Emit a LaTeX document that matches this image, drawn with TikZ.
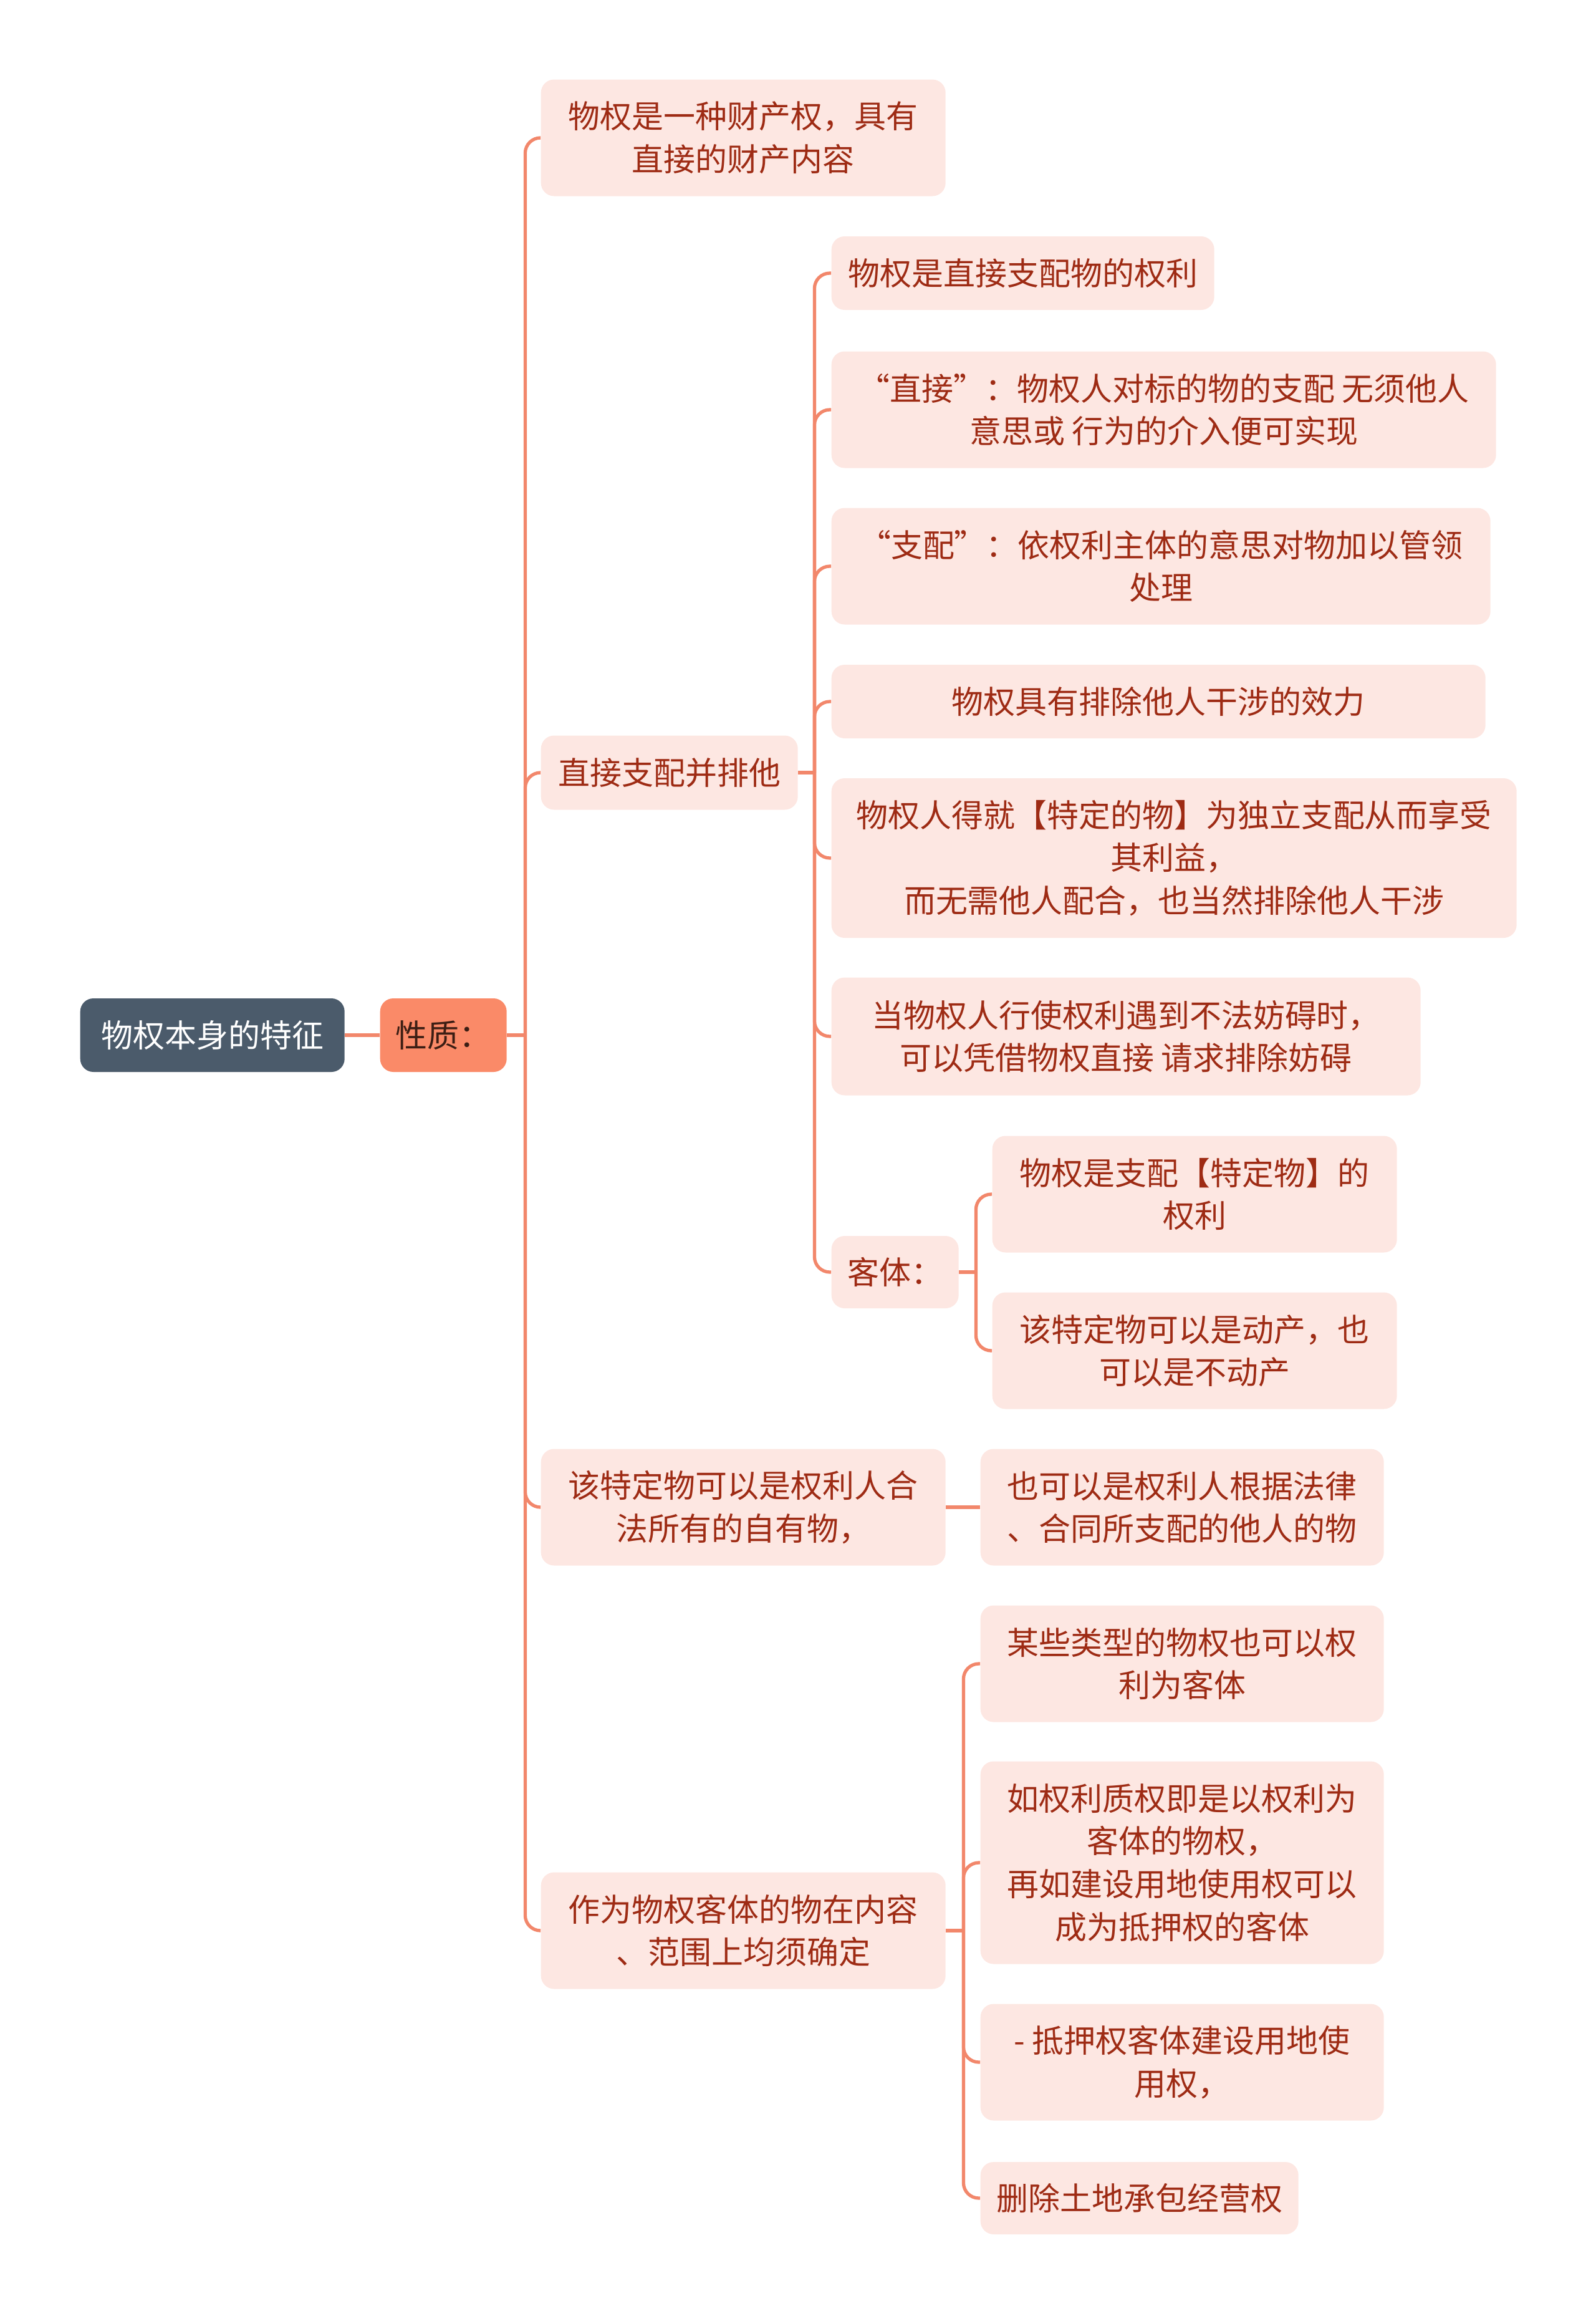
\documentclass[tikz,border=0pt]{standalone}
\usepackage{fontspec}
\setmainfont{Noto Sans CJK SC}
\usetikzlibrary{positioning,calc}
\definecolor{sroot}{HTML}{4B5B6B}
\definecolor{sorange}{HTML}{FA8A68}
\definecolor{spink}{HTML}{FDE7E2}
\definecolor{sline}{HTML}{F2876B}
\definecolor{stext}{HTML}{9E2B14}
\definecolor{sdark}{HTML}{3C1E14}

\begin{document}
\begin{tikzpicture}[
  box/.style={anchor=west, fill=spink, rounded corners=6pt, text=stext, align=center,
    inner sep=4pt, font=\fontsize{14.5}{19.5}\selectfont},
  wh/.style 2 args={minimum width=#1cm, minimum height=#2cm},
  link/.style={sline, line width=1.5pt, rounded corners=7pt}]
 \useasboundingbox (0,0) rectangle (25.6,-37.14);
 % root and first level
 \node[box, wh={4.24}{1.18}, fill=sroot, text=white] (root) at (1.28,-16.60) {物权本身的特征};
 \node[box, wh={2.03}{1.18}, fill=sorange, text=sdark] (xz) at (6.09,-16.60) {性质：};
 \node[box, wh={6.49}{1.87}] (n1) at (8.67,-2.21) {物权是一种财产权，具有\\直接的财产内容};
 \node[box, wh={4.12}{1.19}] (n2) at (8.67,-12.39) {直接支配并排他};
 \node[box, wh={6.49}{1.87}] (n3) at (8.67,-24.17) {该特定物可以是权利人合\\法所有的自有物，};
 \node[box, wh={6.49}{1.87}] (n4) at (8.67,-30.96) {作为物权客体的物在内容\\、范围上均须确定};
 % children of n2
 \node[box, wh={6.14}{1.18}] (c1) at (13.33,-4.38) {物权是直接支配物的权利};
 \node[box, wh={10.66}{1.87}] (c2) at (13.33,-6.57) {“直接”：物权人对标的物的支配 无须他人\\意思或 行为的介入便可实现};
 \node[box, wh={10.57}{1.87}] (c3) at (13.33,-9.08) {“支配”：依权利主体的意思对物加以管领\\处理};
 \node[box, wh={10.49}{1.18}] (c4) at (13.33,-11.25) {物权具有排除他人干涉的效力};
 \node[box, wh={10.99}{2.56}] (c5) at (13.33,-13.76) {物权人得就【特定的物】为独立支配从而享受\\其利益，\\而无需他人配合，也当然排除他人干涉};
 \node[box, wh={9.45}{1.89}] (c6) at (13.33,-16.62) {当物权人行使权利遇到不法妨碍时，\\可以凭借物权直接 请求排除妨碍};
 \node[box, wh={2.04}{1.16}] (c7) at (13.33,-20.40) {客体：};
 \node[box, wh={6.49}{1.87}] (k1) at (15.91,-19.15) {物权是支配【特定物】的\\权利};
 \node[box, wh={6.49}{1.87}] (k2) at (15.91,-21.66) {该特定物可以是动产，也\\可以是不动产};
 % children of n3 and n4
 \node[box, wh={6.47}{1.87}] (p1) at (15.72,-24.17) {也可以是权利人根据法律\\、合同所支配的他人的物};
 \node[box, wh={6.47}{1.87}] (m1) at (15.72,-26.68) {某些类型的物权也可以权\\利为客体};
 \node[box, wh={6.47}{3.25}] (m2) at (15.72,-29.87) {如权利质权即是以权利为\\客体的物权，\\再如建设用地使用权可以\\成为抵押权的客体};
 \node[box, wh={6.47}{1.87}] (m3) at (15.72,-33.07) {- 抵押权客体建设用地使\\用权，};
 \node[box, wh={5.10}{1.16}] (m4) at (15.72,-35.25) {删除土地承包经营权};
 % connectors
 \draw[link] (root.east) -- (xz.west);
 \coordinate[right=0.29 of xz] (jx);
 \draw[link] (xz.east) -- (jx);
 \foreach \c in {n1,n2,n3,n4} \draw[link] (jx) |- (\c.west);
 \coordinate[right=0.26 of n2] (jd);
 \draw[link] (n2.east) -- (jd);
 \foreach \c in {c1,c2,c3,c4,c5,c6,c7} \draw[link] (jd) |- (\c.west);
 \coordinate[right=0.27 of c7] (jk);
 \draw[link] (c7.east) -- (jk);
 \foreach \c in {k1,k2} \draw[link] (jk) |- (\c.west);
 \draw[link] (n3.east) -- (p1.west);
 \coordinate[right=0.28 of n4] (jf);
 \draw[link] (n4.east) -- (jf);
 \foreach \c in {m1,m2,m3,m4} \draw[link] (jf) |- (\c.west);
\end{tikzpicture}
\end{document}
